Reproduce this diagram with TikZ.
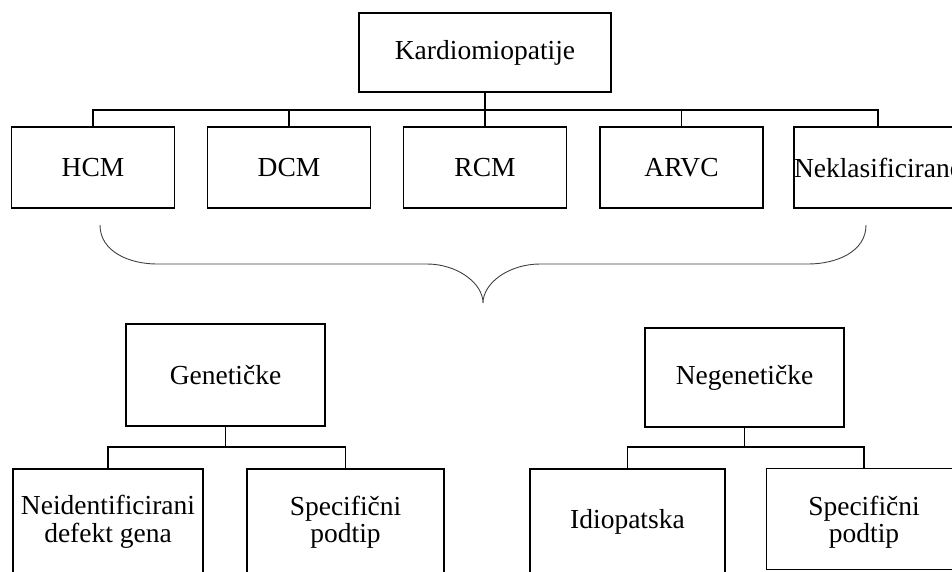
\documentclass[tikz,border=0pt]{standalone}
\usepackage{fontspec}
\setmainfont{Liberation Serif}
\begin{document}
\begin{tikzpicture}[x=1pt,y=-1pt,
  box/.style={draw=black,line width=1.4pt,fill=white,inner sep=0pt,align=center,
    font=\fontsize{27.5}{27.5}\selectfont},
  conn/.style={draw=black,line width=1.4pt},
  bracepath/.style={draw=black!75,line width=0.9pt}]
\useasboundingbox (0,0) rectangle (952,571);
% top
\node[box,minimum width=252,minimum height=79] (top) at (485,52.5) {Kardiomiopatije};
% row
\foreach \n/\x/\t in {hcm/93/HCM,dcm/289/DCM,rcm/485/RCM,arvc/681.5/ARVC,nek/878/Neklasificirane}
  \node[box,minimum width=163,minimum height=81] (\n) at (\x,167.5) {\t};
\coordinate (bus) at (485,110);
\draw[conn] (top.south) -- (rcm.north);
\draw[conn] (hcm.north) |- (bus) -| (nek.north);
\draw[conn] (dcm.north) |- (bus);
\draw[conn] (arvc.north) |- (bus);
% brace
\coordinate (bl) at (100,225);
\coordinate (br) at (866,225);
\coordinate (btip) at (483,303);
\draw[bracepath] (bl) .. controls (100,252) and (130,264) .. (157,264) -- (427,264)
  .. controls (457,264) and (483,283) .. (btip)
  .. controls (483,283) and (509,264) .. (540,264) -- (808,264)
  .. controls (836,264) and (866,252) .. (br);
% second level
\node[box,minimum width=199,minimum height=102] (gen) at (225.5,375) {Genetičke};
\node[box,minimum width=199,minimum height=99] (negen) at (744.5,377.5) {Negenetičke};
\node[box,minimum width=190,minimum height=106] (neid) at (108,522) {Neidentificirani\\defekt gena};
\node[box,minimum width=197,minimum height=106] (spec1) at (345.5,522) {Specifični\\podtip};
\node[box,minimum width=195,minimum height=106] (idio) at (627.5,522) {Idiopatska};
\node[box,draw=none,minimum width=194,minimum height=106] (spec2) at (864,522) {Specifični\\podtip};
\draw[conn] (spec2.north west) rectangle ([yshift=6pt]spec2.south east);
\coordinate (gbus) at (225.5,447);
\coordinate (nbus) at (744.5,447);
\draw[conn] (gen.south) -- (gbus);
\draw[conn] (neid.north) |- (gbus) -| (spec1.north);
\draw[conn] (negen.south) -- (nbus);
\draw[conn] (idio.north) |- (nbus) -| (spec2.north);
\end{tikzpicture}
\end{document}
